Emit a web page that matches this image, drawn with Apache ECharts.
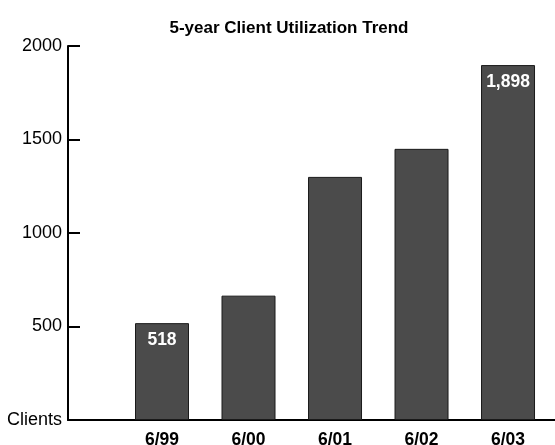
<!DOCTYPE html>
<html>
<head>
<meta charset="utf-8">
<script src="https://cdn.jsdelivr.net/npm/echarts@6/dist/echarts.min.js"></script>
<style>
html,body{margin:0;padding:0;background:#fff;}
#chart{width:555px;height:445px;}
</style>
</head>
<body>
<div id="chart"></div>
<script>
var categories = ['6/99', '6/00', '6/01', '6/02', '6/03'];
var clients = [518, 665, 1300, 1450, 1898];
var labelled = [true, false, false, false, true];

var chart = echarts.init(document.getElementById('chart'), null, {renderer: 'canvas'});
var font = '"Liberation Sans", Arial, Helvetica, sans-serif';

var barData = clients.map(function (v, i) {
  return {
    value: [i + 1, v],
    label: {show: labelled[i]}
  };
});

chart.setOption({
  animation: false,
  backgroundColor: '#ffffff',
  title: {
    text: '5-year Client Utilization Trend',
    left: 284,
    top: 15,
    textAlign: 'center',
    textStyle: {fontFamily: font, fontSize: 17, fontWeight: 'bold', color: '#000'}
  },
  grid: {left: 68, right: 0, top: 46, bottom: 25, containLabel: false, outerBoundsMode: 'none'},
  xAxis: {
    type: 'value',
    min: -0.0867,
    max: 5.543,
    splitLine: {show: false},
    axisLine: {show: true, onZero: false, lineStyle: {color: '#000', width: 2}},
    axisTick: {show: false},
    axisLabel: {
      customValues: [1, 2, 3, 4, 5],
      formatter: function (v) { return categories[Math.round(v) - 1] || ''; },
      margin: 11,
      fontFamily: font, fontSize: 17.5, fontWeight: 'bold', color: '#000'
    }
  },
  yAxis: {
    type: 'value',
    min: 0,
    max: 2000,
    interval: 500,
    splitLine: {show: false},
    axisLine: {show: true, onZero: false, lineStyle: {color: '#000', width: 2}},
    axisTick: {show: true, inside: true, length: 12, lineStyle: {color: '#000', width: 2}},
    axisLabel: {
      margin: 6,
      formatter: function (v) { return v === 0 ? 'Clients' : String(v); },
      fontFamily: font, fontSize: 18, color: '#000'
    }
  },
  series: [{
    type: 'bar',
    data: barData,
    barWidth: 54,
    itemStyle: {color: '#4b4b4b', borderColor: '#1a1a1a', borderWidth: 1},
    label: {
      position: 'insideTop',
      distance: 8,
      formatter: function (p) { return p.value[1].toLocaleString('en-US'); },
      fontFamily: font, fontSize: 17.5, fontWeight: 'bold', color: '#fff'
    }
  }]
});
</script>
</body>
</html>
